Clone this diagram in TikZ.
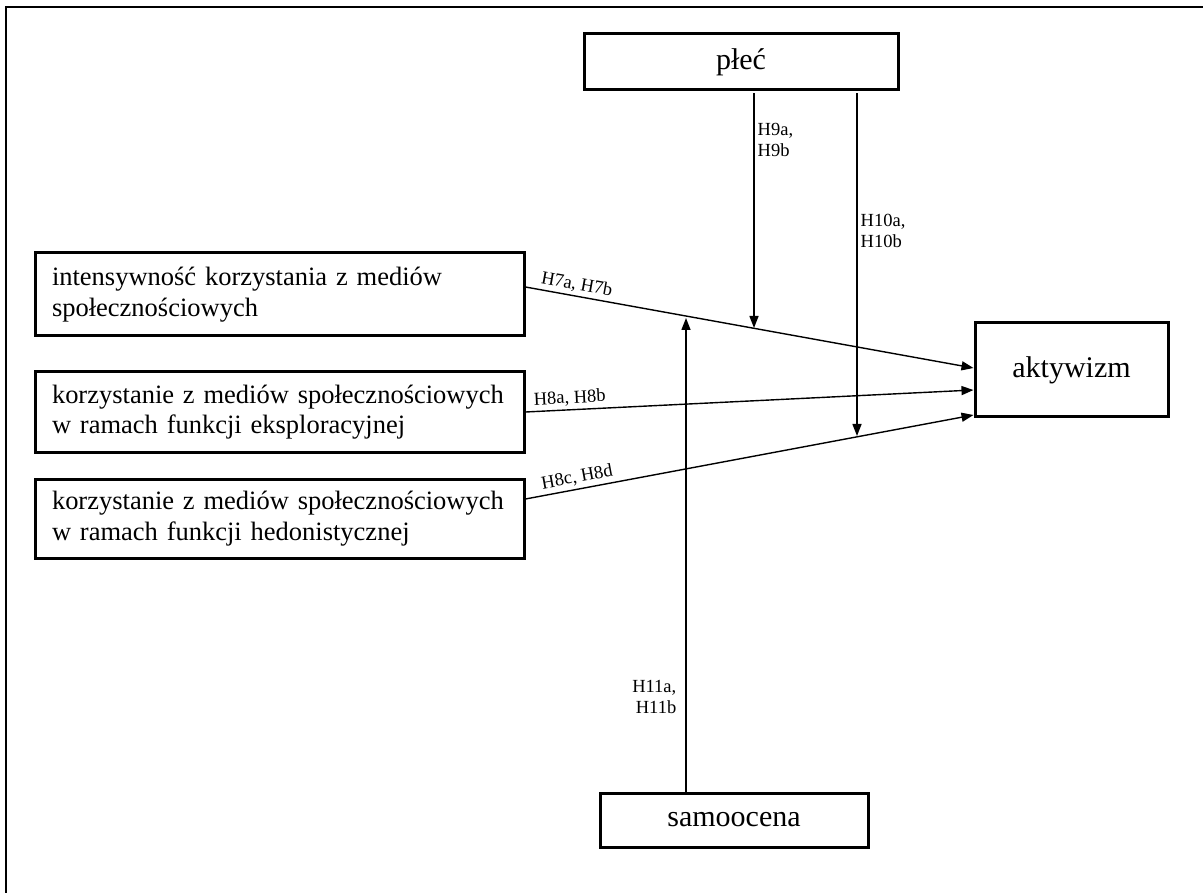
\documentclass[tikz,border=0pt]{standalone}
\usepackage{fontspec}
\setmainfont{Liberation Serif}
\usetikzlibrary{arrows.meta}
\begin{document}
\begin{tikzpicture}[x=1pt,y=-1pt,
  box/.style={draw, line width=3pt, inner sep=0pt, align=left, font=\fontsize{26.5}{30.5}\selectfont},
  bigbox/.style={draw, line width=3pt, inner sep=0pt, font=\fontsize{30}{34}\selectfont},
  arr/.style={line width=1.4pt, -{Triangle[length=12pt,width=9pt]}},
  lab/.style={font=\fontsize{18.5}{21}\selectfont, inner sep=3pt},
]
\useasboundingbox (0,0) rectangle (1203,893);
\draw[line width=2.8pt] (6,893) -- (6,7) -- (1203,7);

\node[bigbox, minimum width=314pt, minimum height=56pt] (ple) at (741,62) {płeć};
\node[box, minimum width=489pt, minimum height=83pt, text width=455pt] (b1) at (279.5,294.5)
  {intensywność korzystania z mediów\\społecznościowych};
\node[box, minimum width=489pt, minimum height=80pt, text width=455pt] (b2) at (279.5,412)
  {korzystanie z mediów społecznościowych\\w ramach funkcji eksploracyjnej};
\node[box, minimum width=489pt, minimum height=79pt, text width=455pt] (b3) at (279.5,518.5)
  {korzystanie z mediów społecznościowych\\w ramach funkcji hedonistycznej};
\node[bigbox, minimum width=193pt, minimum height=94pt] (akt) at (1071.5,370) {aktywizm};
\node[bigbox, minimum width=268pt, minimum height=54pt] (sam) at (734,820) {samoocena};

\draw[arr] ([yshift=7.5pt]b1.east) -- ([yshift=2pt]akt.west)
  node[lab, pos=0.11, sloped, above] {H7a, H7b};
\draw[arr] (b2.east) -- ([yshift=-20pt]akt.west)
  node[lab, pos=0.10, sloped, above] {H8a, H8b};
\draw[arr] ([yshift=19.5pt]b3.east) -- ([yshift=-45pt]akt.west)
  node[lab, pos=0.12, sloped, above] {H8c, H8d};

\coordinate (m9) at (754,328);
\coordinate (m10) at (857,436);
\coordinate (m11) at (686,318);
\draw[arr] ([xshift=13pt,yshift=-2pt]ple.south) -- (m9)
  node[lab, pos=0.2, right, align=left] {H9a,\\H9b};
\draw[arr] ([xshift=116pt,yshift=-2pt]ple.south) -- (m10)
  node[lab, pos=0.40, right, align=left] {H10a,\\H10b};
\draw[arr] ([xshift=-48pt]sam.north) -- (m11)
  node[lab, pos=0.2, left, align=right, xshift=-6pt] {H11a,\\H11b};
\end{tikzpicture}
\end{document}
